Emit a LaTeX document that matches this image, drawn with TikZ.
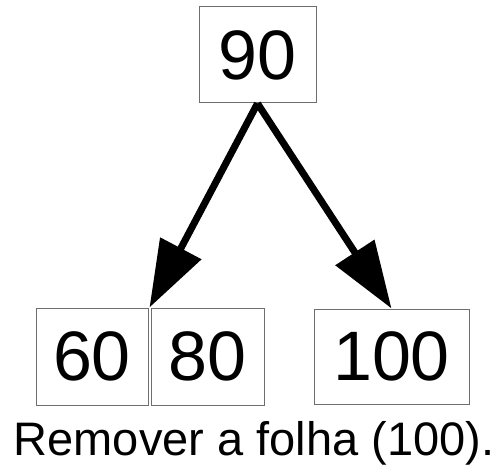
\documentclass[tikz,border=0pt]{standalone}
\usepackage{fontspec}
\setmainfont{Liberation Sans}
\usetikzlibrary{arrows.meta}
\definecolor{boxgray}{HTML}{6E6E6E}
\begin{document}
\begin{tikzpicture}[x=1pt,y=1pt,
  keybox/.style={draw=boxgray,line width=1pt,inner sep=0pt,font=\fontsize{70}{70}\selectfont},
  link/.style={line width=7pt,-{Triangle[length=67pt,width=45pt]}}]
\useasboundingbox (0,0) rectangle (504,467);
\node[keybox,minimum width=117pt,minimum height=96pt] (n90) at (257.5,412) {90};
\node[keybox,minimum width=112pt,minimum height=97pt] (n60) at (92,110.5) {60};
\node[keybox,minimum width=113pt,minimum height=97pt] (n80) at (207.5,110.5) {80};
\node[keybox,minimum width=155pt,minimum height=95pt] (n100) at (391.5,110.5) {100};
\draw[link] (n90.south) -- ([xshift=-1pt]n80.north west);
\draw[link] (n90.south) -- (n100.north);
\node[anchor=base,inner sep=0pt,font=\fontsize{47}{47}\selectfont] (cap) at (254,12) {Remover a folha (100).};
\end{tikzpicture}
\end{document}
